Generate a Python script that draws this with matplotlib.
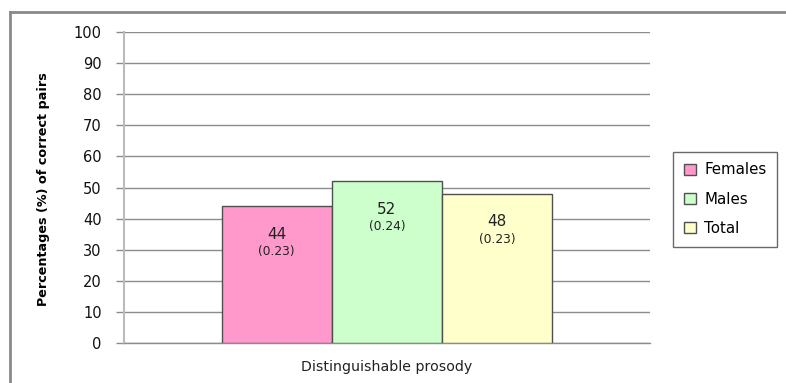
import matplotlib
matplotlib.use("Agg")
import matplotlib.pyplot as plt
from matplotlib.patches import Patch
from matplotlib.lines import Line2D

category = "Distinguishable prosody"
groups = ["Females", "Males", "Total"]
percentages = [44, 52, 48]
std_devs = ["0.23", "0.24", "0.23"]
colors = ["#FF99CC", "#CCFFCC", "#FFFFCC"]
y_ticks = [0, 10, 20, 30, 40, 50, 60, 70, 80, 90, 100]

W, H = 786, 383
fig = plt.figure(figsize=(W / 100, H / 100), dpi=100)

# chart frame (top and left edges visible)
fig.add_artist(Line2D([10 / W, 10 / W], [0, 1 - 12 / H], transform=fig.transFigure,
                      color="#8a8a8a", lw=2))
fig.add_artist(Line2D([10 / W, 1], [1 - 12 / H, 1 - 12 / H], transform=fig.transFigure,
                      color="#8a8a8a", lw=2))

ax = fig.add_axes([124 / W, 1 - 343 / H, (650 - 124) / W, (343 - 32) / H])

bar_w = 0.2095
offsets = [-bar_w, 0, bar_w]
for g, v, sd, c, off in zip(groups, percentages, std_devs, colors, offsets):
    ax.bar(off, v, width=bar_w, color=c, edgecolor="#505050", linewidth=1.0,
           zorder=3, label=g)
    ax.text(off, v - 9.0, str(v), ha="center", va="center", fontsize=11,
            color="#222222", zorder=4)
    ax.text(off, v - 14.7, f"({sd})", ha="center", va="center", fontsize=8.8,
            color="#222222", zorder=4)

ax.set_xlim(-0.5, 0.5)
ax.set_ylim(0, 100)
ax.set_yticks(y_ticks)
ax.set_yticklabels([str(t) for t in y_ticks], fontsize=10.5, color="#111111")
ax.set_xticks([])
ax.yaxis.grid(True, color="#8c8c8c", lw=1, zorder=0)
ax.tick_params(axis="y", length=6, color="#8c8c8c", width=1, pad=10)
for s in ["top", "right"]:
    ax.spines[s].set_visible(False)
ax.spines["left"].set_color("#bbbbbb")
ax.spines["left"].set_linewidth(1.5)
ax.spines["bottom"].set_color("#8c8c8c")
ax.spines["bottom"].set_linewidth(1)

ax.set_xlabel(category, fontsize=10.2, color="#222222", labelpad=12)
fig.text(44 / W, 1 - 189 / H, "Percentages (%) of correct pairs", rotation=90,
         ha="center", va="center", fontsize=9.2, fontweight="bold")

handles = [Patch(facecolor=c, edgecolor="#505050", label=g) for g, c in zip(groups, colors)]
leg = fig.legend(handles=handles, loc="upper left", bbox_to_anchor=(673 / W, 1 - 152 / H),
                 frameon=True, fancybox=False, fontsize=10.8, handlelength=0.85,
                 handleheight=0.75, handletextpad=0.55, labelspacing=0.95,
                 borderpad=0.7, edgecolor="#444444", borderaxespad=0)
leg.get_frame().set_linewidth(1)

fig.savefig("out.png", dpi=100)
